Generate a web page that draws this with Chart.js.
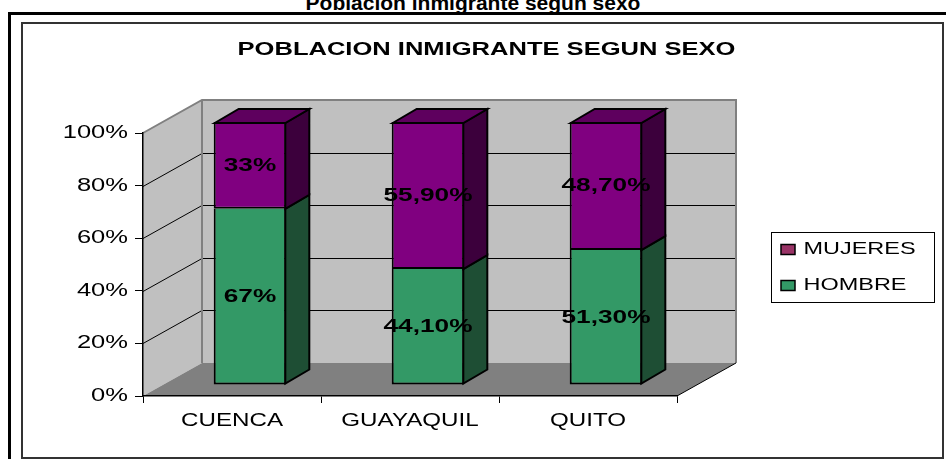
<!DOCTYPE html>
<html>
<head>
<meta charset="utf-8">
<script src="https://cdn.jsdelivr.net/npm/chart.js@4.4.0/dist/chart.umd.min.js"></script>
<style>
  html, body { margin: 0; padding: 0; background: #fff; overflow: hidden; }
  body { width: 946px; height: 459px; position: relative; }
  #sheetTitle { position: absolute; left: 0; top: -8px; width: 946px; text-align: center; font: bold 21px/21px 'Liberation Sans', Arial, sans-serif; color: #000; }
  #outerFrame { position: absolute; left: 8px; top: 12px; width: 2000px; height: 2000px; border-left: 3px solid #000; border-top: 3px solid #000; }
  #innerFrame { position: absolute; left: 21px; top: 22px; width: 923px; height: 437px; border: 2px solid #333; box-sizing: border-box; }
  #chart { position: absolute; left: 0; top: 0; }
</style>
</head>
<body>
<div id="sheetTitle">Poblacion inmigrante segun sexo</div>
<div id="outerFrame"></div>
<div id="innerFrame"></div>
<canvas id="chart" width="946" height="459"></canvas>
<script>
const categories = ['CUENCA', 'GUAYAQUIL', 'QUITO'];
const hombre = [67, 44.1, 51.3];
const mujeres = [33, 55.9, 48.7];
const yTicks = [0, 20, 40, 60, 80, 100];

// colours: [HOMBRE, MUJERES]
const FRONT = ['#339966', '#800080'];
const SIDE = ['#1e4e34', '#3c003c'];
const TOP = ['#2a7d54', '#5e005e'];
const SWATCH = ['#339966', '#993366'];

// fake 3d: wall depth, bar offset from the front plane, bar depth
const WDX = 59, WDY = -33;
const BX = 18, BY = -11;
const DDX = 24, DDY = -14;

// the original text is drawn horizontally stretched
const STRETCH = 1.38;

const canvas = document.getElementById('chart');
const ctx = canvas.getContext('2d');
const plainFillText = ctx.fillText.bind(ctx);
ctx.fillText = function (text, x, y) {
    ctx.save();
    ctx.translate(x, y);
    ctx.scale(STRETCH, 1);
    plainFillText(text, 0, 0);
    ctx.restore();
};

function poly(c, pts) {
    c.beginPath();
    pts.forEach(function (p, i) {
        if (i) c.lineTo(p[0], p[1]); else c.moveTo(p[0], p[1]);
    });
    c.closePath();
}

function fmt(v) {
    return Number.isInteger(v) ? v + '%' : v.toFixed(2).replace('.', ',') + '%';
}

const walls = {
    id: 'walls',
    beforeDraw(chart) {
        const c = chart.ctx;
        const xs = chart.scales.x, ys = chart.scales.y;
        const l = xs.left, r = xs.right;
        const t = ys.getPixelForValue(100), b = ys.getPixelForValue(0);
        c.save();
        c.fillStyle = '#c0c0c0';
        poly(c, [[l, t], [l + WDX, t + WDY], [l + WDX, b + WDY], [l, b]]);
        c.fill();
        c.fillRect(l + WDX, t + WDY, r - l, b - t);
        c.fillStyle = '#808080';
        poly(c, [[l, b], [r, b], [r + WDX, b + WDY], [l + WDX, b + WDY]]);
        c.fill();

        c.strokeStyle = '#000';
        c.lineWidth = 1;
        ys.ticks.forEach(function (tk) {
            if (tk.value <= 0 || tk.value >= 100) return;
            const py = Math.round(ys.getPixelForValue(tk.value)) + 0.5;
            c.beginPath();
            c.moveTo(l, py);
            c.lineTo(l + WDX, py + WDY);
            c.lineTo(r + WDX, py + WDY);
            c.stroke();
        });

        c.strokeStyle = '#808080';
        c.lineWidth = 2;
        c.beginPath();
        c.moveTo(l, t);
        c.lineTo(l + WDX, t + WDY);
        c.lineTo(r + WDX, t + WDY);
        c.lineTo(r + WDX, b + WDY);
        c.moveTo(l + WDX, t + WDY);
        c.lineTo(l + WDX, b + WDY);
        c.stroke();

        c.strokeStyle = '#000';
        c.lineWidth = 1;
        c.beginPath();
        c.moveTo(r, b);
        c.lineTo(r + WDX, b + WDY);
        c.stroke();
        c.restore();
    }
};

const bars3d = {
    id: 'bars3d',
    beforeDatasetsDraw(chart) {
        chart.ctx.save();
        chart.ctx.translate(BX, BY);
    },
    afterDatasetsDraw(chart) {
        const c = chart.ctx;
        const last = chart.data.datasets.length - 1;
        c.lineWidth = 2;
        c.strokeStyle = '#000';
        c.lineJoin = 'miter';
        chart.data.datasets.forEach(function (ds, di) {
            chart.getDatasetMeta(di).data.forEach(function (bar) {
                const p = bar.getProps(['x', 'y', 'base', 'width'], true);
                const l = p.x - p.width / 2 + 1, r = p.x + p.width / 2 - 1;
                const top = Math.min(p.y, p.base) + (di === last ? 1 : 0);
                const bot = Math.max(p.y, p.base) - (di === 0 ? 1 : 0);
                c.fillStyle = SIDE[di];
                poly(c, [[r, top], [r + DDX, top + DDY], [r + DDX, bot + DDY], [r, bot]]);
                c.fill();
                c.stroke();
                if (di === last) {
                    c.fillStyle = TOP[di];
                    poly(c, [[l, top], [l + DDX, top + DDY], [r + DDX, top + DDY], [r, top]]);
                    c.fill();
                    c.stroke();
                }
            });
        });
        c.restore();

        c.save();
        c.font = 'bold 19px "Liberation Sans", Arial, sans-serif';
        c.fillStyle = '#000';
        c.textAlign = 'center';
        c.textBaseline = 'middle';
        chart.data.datasets.forEach(function (ds, di) {
            chart.getDatasetMeta(di).data.forEach(function (bar, i) {
                const p = bar.getProps(['x', 'y', 'base'], true);
                c.fillText(fmt(ds.data[i]), p.x + BX, (p.y + p.base) / 2 + BY);
            });
        });
        c.restore();
    }
};

const legendBox = {
    id: 'legendBox',
    afterLayout(chart) {
        const lg = chart.legend;
        lg.left = 762;
        lg.top = 222;
        lg.width = 180;
        lg.height = 160;
        lg.right = lg.left + lg.width;
        lg.bottom = lg.top + lg.height;
    },
    afterDraw(chart) {
        const c = chart.ctx;
        c.save();
        c.strokeStyle = '#000';
        c.lineWidth = 1;
        c.strokeRect(771.5, 232.5, 163, 70);
        c.restore();
    }
};

Chart.defaults.font.family = '"Liberation Sans", Arial, sans-serif';
Chart.defaults.color = '#000';

new Chart(ctx, {
    type: 'bar',
    data: {
        labels: categories,
        datasets: [{
            label: 'HOMBRE',
            data: hombre,
            backgroundColor: FRONT[0],
            borderColor: '#000',
            borderWidth: 2,
            borderSkipped: 'top',
            clip: false
        }, {
            label: 'MUJERES',
            data: mujeres,
            backgroundColor: FRONT[1],
            borderColor: '#000',
            borderWidth: 2,
            borderSkipped: false,
            clip: false
        }]
    },
    options: {
        responsive: false,
        animation: false,
        events: [],
        categoryPercentage: 0.8,
        barPercentage: 0.51,
        layout: { padding: { left: 27, right: 0, top: 0, bottom: 0 } },
        plugins: {
            title: {
                display: true,
                text: 'POBLACION INMIGRANTE SEGUN SEXO',
                color: '#000',
                font: { size: 18.5, weight: 'bold', lineHeight: 1.2 },
                padding: { top: 39, bottom: 71.8 }
            },
            legend: {
                position: 'chartArea',
                align: 'start',
                reverse: true,
                labels: {
                    boxWidth: 14,
                    boxHeight: 10,
                    padding: 19,
                    color: '#000',
                    font: { size: 17 },
                    generateLabels(chart) {
                        return Chart.defaults.plugins.legend.labels.generateLabels(chart).map(function (item) {
                            item.fillStyle = SWATCH[item.datasetIndex];
                            item.strokeStyle = '#000';
                            item.lineWidth = 1.5;
                            return item;
                        });
                    }
                }
            },
            tooltip: { enabled: false }
        },
        scales: {
            x: {
                stacked: true,
                ticks: { font: { size: 17.5 }, padding: 8 },
                grid: { drawOnChartArea: false, tickLength: 7, color: '#000', offset: true },
                border: { color: '#000', width: 1.5 },
                afterFit(s) { s.height = 63; }
            },
            y: {
                stacked: true,
                min: 0,
                max: 100,
                afterBuildTicks(s) { s.ticks = yTicks.map(function (v) { return { value: v }; }); },
                ticks: { callback: function (v) { return v + '%'; }, padding: 7, font: { size: 18.5 } },
                grid: { drawOnChartArea: false, tickLength: 8, color: '#000' },
                border: { color: '#000', width: 1.5 },
                afterFit(s) { s.width = 116; }
            },
            spacer: {
                type: 'linear',
                position: 'right',
                grid: { display: false },
                ticks: { display: false },
                border: { display: false },
                afterFit(s) { s.width = 269; }
            }
        }
    },
    plugins: [walls, bars3d, legendBox]
});
</script>
</body>
</html>
